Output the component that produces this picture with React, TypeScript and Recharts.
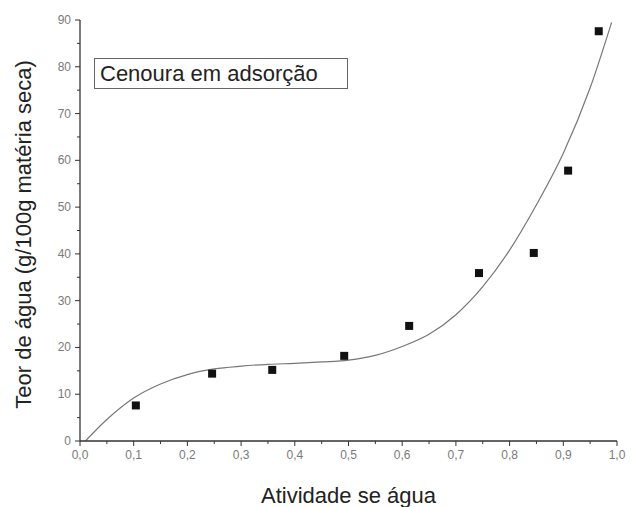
import {
  ComposedChart,
  Line,
  Scatter,
  XAxis,
  YAxis,
} from "recharts";

/* ------------------------------------------------------------------ */
/*  Data                                                               */
/* ------------------------------------------------------------------ */

// measured points (water activity vs moisture content)
const pointAw = [0.104, 0.246, 0.358, 0.492, 0.613, 0.743, 0.845, 0.909, 0.966];
const pointMoisture = [7.6, 14.4, 15.2, 18.2, 24.6, 35.9, 40.2, 57.8, 87.6];

// fitted curve
const curveAw = [
  0.01, 0.05, 0.1, 0.15, 0.2, 0.25, 0.3, 0.35, 0.4, 0.45, 0.5, 0.55, 0.6,
  0.65, 0.7, 0.75, 0.8, 0.85, 0.9, 0.95, 0.99,
];
const curveMoisture = [
  0, 4.6, 9.2, 12.2, 14.2, 15.4, 16.0, 16.4, 16.6, 16.9, 17.3, 18.3, 20.2,
  22.8, 27.0, 33.0, 40.8, 50.5, 61.5, 75.5, 89.5,
];

const xTicks = Array.from({ length: 21 }, (_, i) => i / 20);
const yTicks = Array.from({ length: 19 }, (_, i) => i * 5);

const FONT = "'Liberation Sans', Arial, sans-serif";
const AXIS = "#333";
const TICK_TEXT = "#7a7a7a";

/* ------------------------------------------------------------------ */
/*  Helpers                                                            */
/* ------------------------------------------------------------------ */

const points = pointAw.map((x, i) => ({ x, y: pointMoisture[i] }));
const curve = curveAw.map((x, i) => ({ x, y: curveMoisture[i] }));

const isMajor = (v: number, step: number) =>
  Math.abs(v / step - Math.round(v / step)) < 1e-6;

const XTick = (props: any) => {
  const { x, y, payload } = props;
  const v = payload.value as number;
  const major = isMajor(v, 0.1);
  const axisY = y - 9;
  return (
    <g>
      <line x1={x} x2={x} y1={axisY} y2={axisY + (major ? 5 : 3)} stroke={AXIS} />
      {major && (
        <text
          x={x}
          y={axisY + 18}
          textAnchor="middle"
          fontSize={12}
          fontFamily={FONT}
          fill={TICK_TEXT}
        >
          {v.toFixed(1).replace(".", ",")}
        </text>
      )}
    </g>
  );
};

const YTick = (props: any) => {
  const { x, y, payload } = props;
  const v = payload.value as number;
  const major = isMajor(v, 10);
  const axisX = x + 9;
  return (
    <g>
      <line x1={axisX} x2={axisX - (major ? 5 : 3)} y1={y} y2={y} stroke={AXIS} />
      {major && (
        <text
          x={axisX - 9}
          y={y + 4}
          textAnchor="end"
          fontSize={12}
          fontFamily={FONT}
          fill={TICK_TEXT}
        >
          {v}
        </text>
      )}
    </g>
  );
};

const SquareDot = (props: any) => {
  const { cx, cy } = props;
  return <rect x={cx - 4} y={cy - 4} width={8} height={8} fill="#111" />;
};

const YLabel = (props: any) => {
  const { viewBox } = props;
  const cx = 23;
  const cy = viewBox.y + viewBox.height / 2 + 4;
  return (
    <text
      x={cx}
      y={cy}
      transform={`rotate(-90, ${cx}, ${cy})`}
      textAnchor="middle"
      dominantBaseline="central"
      fontSize={22}
      fontFamily={FONT}
      fill="#222"
    >
      Teor de água (g/100g matéria seca)
    </text>
  );
};

/* ------------------------------------------------------------------ */
/*  Component                                                          */
/* ------------------------------------------------------------------ */

export default function App() {
  return (
    <div style={{ position: "absolute", left: 0, top: 0, width: 634, height: 507, background: "#fff" }}>
      <ComposedChart
        width={634}
        height={507}
        margin={{ top: 20, right: 17, bottom: 0, left: 0 }}
      >
        <XAxis
          dataKey="x"
          type="number"
          domain={[0, 1]}
          ticks={xTicks}
          interval={0}
          height={66}
          tickSize={5}
          tickMargin={4}
          tickLine={false}
          tick={<XTick />}
          stroke={AXIS}
          strokeWidth={1.3}
          allowDataOverflow
          label={{
            value: "Atividade se água",
            position: "insideBottom",
            offset: 4,
            fontSize: 22,
            fontFamily: FONT,
            fill: "#222",
          }}
        />
        <YAxis
          dataKey="y"
          type="number"
          domain={[0, 90]}
          ticks={yTicks}
          interval={0}
          width={80}
          tickSize={5}
          tickMargin={4}
          tickLine={false}
          tick={<YTick />}
          stroke={AXIS}
          strokeWidth={1.3}
          allowDataOverflow
          label={<YLabel />}
        />
        <Line
          data={curve}
          dataKey="y"
          type="monotone"
          stroke="#777"
          strokeWidth={1.2}
          dot={false}
          activeDot={false}
          isAnimationActive={false}
        />
        <Scatter
          data={points}
          dataKey="y"
          shape={<SquareDot />}
          isAnimationActive={false}
        />
      </ComposedChart>
      <div
        style={{
          position: "absolute",
          left: 94,
          top: 58,
          width: 254,
          height: 31,
          border: "1px solid #666",
          boxSizing: "border-box",
          fontFamily: FONT,
          fontSize: 22,
          color: "#222",
          lineHeight: "29px",
          paddingLeft: 5,
          whiteSpace: "nowrap",
        }}
      >
        Cenoura em adsorção
      </div>
    </div>
  );
}
